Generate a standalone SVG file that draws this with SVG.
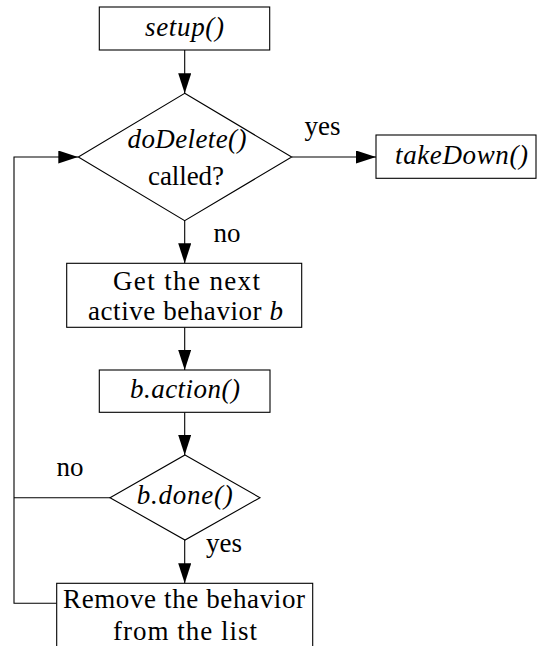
<svg xmlns="http://www.w3.org/2000/svg" width="537" height="646" viewBox="0 0 537 646">
<style>
.shape{fill:#fff;stroke:#000;stroke-width:1.1}
.edge{fill:none;stroke:#000;stroke-width:1.1}
text{font-family:'Liberation Serif','Times New Roman','DejaVu Serif','Noto Serif','Nimbus Roman',Times,serif;font-size:27px;fill:#000;text-anchor:middle}
.it{font-style:italic}
</style>
<defs>
<marker id="arr" markerUnits="userSpaceOnUse" markerWidth="20" markerHeight="13" refX="20" refY="6.5" orient="auto">
<path d="M0,0 L20,6.5 L0,13 z" fill="#000"/>
</marker>
</defs>
<rect width="537" height="646" fill="#fff"/>
<g id="connectors">
<line class="edge" x1="184.7" y1="50" x2="184.7" y2="93.3" marker-end="url(#arr)"/>
<line class="edge" x1="291.7" y1="157" x2="376" y2="157" marker-end="url(#arr)"/>
<line class="edge" x1="184.7" y1="220.7" x2="184.7" y2="263.3" marker-end="url(#arr)"/>
<line class="edge" x1="184.7" y1="327.3" x2="184.7" y2="370" marker-end="url(#arr)"/>
<line class="edge" x1="184.7" y1="412.3" x2="184.7" y2="455" marker-end="url(#arr)"/>
<line class="edge" x1="184.7" y1="540" x2="184.7" y2="583.3" marker-end="url(#arr)"/>
<line class="edge" x1="110" y1="497.7" x2="14" y2="497.7"/>
<polyline class="edge" points="56.7,603.3 14,603.3 14,157 78.3,157" marker-end="url(#arr)"/>
<text x="322.5" y="135" font-family="Liberation Serif, serif">yes</text>
<text x="227" y="242" font-family="Liberation Serif, serif">no</text>
<text x="70" y="476" font-family="Liberation Serif, serif">no</text>
<text x="224" y="552" font-family="Liberation Serif, serif">yes</text>
</g>
<g id="setup">
<rect class="shape" x="99.3" y="7" width="170.4" height="43"/>
<text class="it" x="184.5" y="35.5" textLength="79">setup()</text>
</g>
<g id="doDelete">
<polygon class="shape" points="184.7,93.3 291.7,157 184.7,220.7 78.3,157"/>
<text class="it" x="187" y="148" textLength="119">doDelete()</text>
<text x="186" y="185" textLength="76">called?</text>
</g>
<g id="takeDown">
<rect class="shape" x="376" y="135" width="160" height="43.3"/>
<text class="it" x="461.5" y="164" textLength="133">takeDown()</text>
</g>
<g id="getNext">
<rect class="shape" x="66.7" y="263.3" width="235" height="64"/>
<text x="186.5" y="290" textLength="147">Get the next</text>
<text x="185.5" y="320" textLength="195">active behavior <tspan class="it">b</tspan></text>
</g>
<g id="action">
<rect class="shape" x="99.3" y="370" width="170.7" height="42.3"/>
<text class="it" x="185" y="398.3" textLength="110">b.action()</text>
</g>
<g id="done">
<polygon class="shape" points="185,455 260,497.7 185,540 110,497.7"/>
<text class="it" x="184.7" y="504" textLength="96">b.done()</text>
</g>
<g id="remove">
<rect class="shape" x="56.7" y="583.3" width="256" height="90"/>
<text x="184" y="608.3" textLength="242">Remove the behavior</text>
<text x="185" y="640" textLength="144">from the list</text>
</g>
</svg>
